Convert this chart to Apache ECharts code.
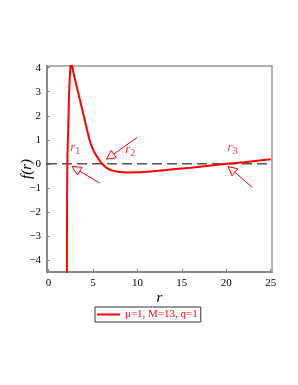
<!DOCTYPE html>
<html><head><meta charset="utf-8">
<script src="https://cdn.jsdelivr.net/npm/echarts@6/dist/echarts.min.js"></script>
<style>html,body{margin:0;padding:0;background:#fff}#c{width:298px;height:385px}</style>
</head><body><div id="c"></div>
<script>
const rValues = [2.06, 2.08, 2.12, 2.17, 2.23, 2.3, 2.38, 2.46, 2.55, 2.65, 2.8, 3.0, 3.5, 4.0, 4.3, 4.6, 4.9, 5.2, 5.5, 5.8, 6.1, 6.5, 7.0, 7.5, 8.0, 9.0, 10.0, 11.0, 12.0, 14.0, 16.0, 18.0, 20.0, 22.0, 24.0, 25.0];
const fValues = [-4.6, -1.5, 0.3, 1.0, 1.8, 2.8, 3.6, 4.05, 4.2, 4.05, 3.8, 3.47, 2.7, 1.92, 1.45, 1.0, 0.68, 0.45, 0.27, 0.1, -0.03, -0.16, -0.26, -0.31, -0.34, -0.36, -0.355, -0.33, -0.3, -0.23, -0.16, -0.08, 0.0, 0.07, 0.15, 0.19];
const xTicks = [0, 5, 10, 15, 20, 25];
const yTicks = [-4, -3, -2, -1, 0, 1, 2, 3, 4];
const arrowTail = [[5.75, -0.80], [9.97, 1.10], [22.93, -0.98]];
const arrowTip = [[2.64, -0.11], [6.51, 0.19], [20.21, -0.11]];
const rootNames = ['1', '2', '3'];
const rootLabelPos = [[2.99, 0.66], [9.2, 0.58], [20.7, 0.66]];
const legendName = 'μ=1, M=13, q=1';

const serif = 'Liberation Serif';
const chart = echarts.init(document.getElementById('c'));
const curve = rValues.map((r, i) => [r, fValues[i]]);
const arrowData = arrowTail.map((t, i) => [t[0], t[1], arrowTip[i][0], arrowTip[i][1]]);
const labelData = rootLabelPos.map((p, i) => ({value: p, name: rootNames[i]}));

chart.setOption({
  animation: false,
  backgroundColor: '#fff',
  grid: {left: 47, right: 26, top: 66, bottom: 113, show: true, borderColor: '#999', borderWidth: 1.5,
    containLabel: false, outerBoundsMode: 'none'},
  legend: {
    top: 307, left: 95, itemWidth: 23, itemHeight: 2, itemGap: 4,
    data: [legendName],
    padding: [2, 3, 2, 2],
    borderColor: '#333', borderWidth: 1,
    textStyle: {color: '#f00', fontFamily: serif, fontSize: 11},
    icon: 'rect'
  },
  xAxis: {
    type: 'value', min: -0.18, max: 25.15,
    name: 'r', nameLocation: 'middle', nameGap: 19, nameMoveOverlap: false,
    nameTextStyle: {fontFamily: serif, fontStyle: 'italic', fontSize: 15, color: '#000'},
    axisLine: {show: true, onZero: false, lineStyle: {color: '#888', width: 2}},
    axisTick: {show: true, inside: true, length: 3, customValues: xTicks, lineStyle: {color: '#888'}},
    minorTick: {show: false},
    axisLabel: {customValues: xTicks, fontFamily: serif, fontSize: 11, color: '#000', margin: 6},
    splitLine: {show: false}
  },
  yAxis: {
    type: 'value', min: -4.5, max: 4.07,
    name: 'f(r)', nameLocation: 'middle', nameGap: 12, nameMoveOverlap: false,
    nameTextStyle: {fontFamily: serif, fontStyle: 'italic', fontSize: 15, color: '#000'},
    axisLine: {show: true, onZero: false, lineStyle: {color: '#888', width: 2}},
    axisTick: {show: true, inside: true, length: 3, customValues: yTicks, lineStyle: {color: '#888'}},
    axisLabel: {customValues: yTicks, fontFamily: serif, fontSize: 11, color: '#000', margin: 6,
      formatter: v => v < 0 ? '\u2212' + Math.abs(v) : String(v)},
    splitLine: {show: false}
  },
  series: [
    {
      type: 'line', name: 'zeroLeft', data: [[-1.4, 0], [-0.18, 0]], clip: false, symbol: 'none', silent: true,
      lineStyle: {color: '#000', width: 1.2}
    },
    {
      type: 'line', name: 'zero', data: [[-0.18, 0], [25.15, 0]], symbol: 'none', silent: true,
      lineStyle: {color: '#555', width: 1.5, type: [10, 5]}
    },
    {
      type: 'line', name: legendName, data: curve, symbol: 'none', smooth: 0.15,
      lineStyle: {color: '#f00', width: 2}, itemStyle: {color: '#f00'}
    },
    {
      type: 'custom', name: 'arrows', data: arrowData, silent: true,
      renderItem: (params, api) => {
        const a = api.coord([api.value(0), api.value(1)]);
        const b = api.coord([api.value(2), api.value(3)]);
        const dx = b[0] - a[0], dy = b[1] - a[1];
        const len = Math.hypot(dx, dy);
        const ux = dx / len, uy = dy / len;
        const hl = 9, hw = 4.5;
        const base = [b[0] - ux * hl, b[1] - uy * hl];
        const p1 = [base[0] - uy * hw, base[1] + ux * hw];
        const p2 = [base[0] + uy * hw, base[1] - ux * hw];
        return {
          type: 'group', children: [
            {type: 'line', shape: {x1: a[0], y1: a[1], x2: base[0], y2: base[1]}, style: {stroke: '#f00', lineWidth: 1}},
            {type: 'polygon', shape: {points: [b, p1, p2]}, style: {fill: '#fff', stroke: '#f00', lineWidth: 1}}
          ]
        };
      }
    },
    {
      type: 'scatter', name: 'rootLabels', data: labelData, symbolSize: 0, silent: true,
      label: {
        show: true, position: 'inside',
        formatter: p => '{r|r}{s|' + p.name + '}',
        rich: {
          r: {fontFamily: serif, fontStyle: 'italic', fontSize: 13, color: '#f00'},
          s: {fontFamily: serif, fontSize: 10, color: '#f00', verticalAlign: 'bottom', padding: [6, 0, 0, 0]}
        }
      }
    }
  ]
});
</script></body></html>
